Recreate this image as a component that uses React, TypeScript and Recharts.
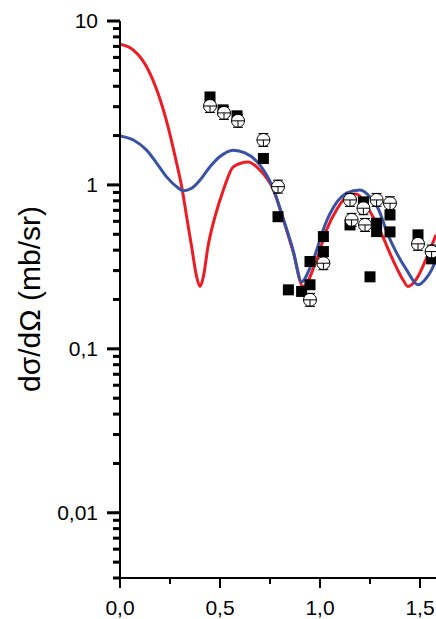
import {
  ComposedChart,
  Line,
  XAxis,
  YAxis,
} from "recharts";

// theory curves
const redX = [0, 0.067, 0.133, 0.19, 0.24, 0.283, 0.31, 0.333, 0.358, 0.383, 0.4, 0.417, 0.44, 0.475, 0.517, 0.567, 0.64, 0.7, 0.767, 0.817, 0.867, 0.915, 0.983, 1.033, 1.083, 1.133, 1.18, 1.24, 1.31, 1.36, 1.415, 1.44, 1.48, 1.533, 1.58];
const redY = [7.21, 6.65, 5.26, 3.62, 2.27, 1.36, 0.955, 0.641, 0.421, 0.276, 0.24, 0.276, 0.421, 0.641, 0.932, 1.29, 1.38, 1.23, 0.932, 0.612, 0.385, 0.24, 0.349, 0.532, 0.705, 0.849, 0.881, 0.721, 0.496, 0.359, 0.264, 0.24, 0.264, 0.359, 0.496];

const blueX = [0, 0.067, 0.133, 0.183, 0.233, 0.283, 0.317, 0.358, 0.4, 0.45, 0.5, 0.565, 0.625, 0.7, 0.765, 0.815, 0.865, 0.908, 0.95, 0.975, 1.025, 1.075, 1.135, 1.2, 1.25, 1.29, 1.34, 1.383, 1.433, 1.49, 1.525, 1.558, 1.58];
const blueY = [1.99, 1.88, 1.63, 1.36, 1.12, 0.976, 0.923, 0.955, 1.07, 1.29, 1.49, 1.63, 1.57, 1.32, 0.958, 0.629, 0.402, 0.257, 0.312, 0.374, 0.57, 0.755, 0.894, 0.932, 0.845, 0.721, 0.496, 0.385, 0.303, 0.246, 0.264, 0.303, 0.349];

// data points
const squareX = [0.45, 0.515, 0.585, 0.717, 0.79, 0.842, 0.908, 0.95, 0.95, 1.017, 1.017, 1.15, 1.217, 1.283, 1.283, 1.35, 1.35, 1.25, 1.49, 1.558];
const squareY = [3.44, 2.87, 2.64, 1.45, 0.64, 0.229, 0.224, 0.246, 0.341, 0.392, 0.484, 0.57, 0.788, 0.584, 0.519, 0.656, 0.517, 0.275, 0.496, 0.354];

const circleX = [0.45, 0.52, 0.59, 0.717, 0.79, 0.95, 1.017, 1.15, 1.217, 1.283, 1.35, 1.158, 1.225, 1.49, 1.558];
const circleY = [3.03, 2.75, 2.46, 1.88, 0.976, 0.199, 0.333, 0.81, 0.721, 0.81, 0.773, 0.612, 0.57, 0.437, 0.392];

const xTicks = [0, 0.25, 0.5, 0.75, 1, 1.25, 1.5];
const xMajor = [0, 0.5, 1, 1.5];
const xLabels = ["0,0", "0,5", "1,0", "1,5"];

const yTicks = [0.004, 0.005, 0.006, 0.007, 0.008, 0.009, 0.01, 0.02, 0.03, 0.04, 0.05, 0.06, 0.07, 0.08, 0.09, 0.1, 0.2, 0.3, 0.4, 0.5, 0.6, 0.7, 0.8, 0.9, 1, 2, 3, 4, 5, 6, 7, 8, 9, 10];
const yMajor = [0.01, 0.1, 1, 10];
const yLabels = ["0,01", "0,1", "1", "10"];

const yTitle = "dσ/dΩ (mb/sr)";

const red = redX.map((x, i) => ({ x, y: redY[i] }));
const blue = blueX.map((x, i) => ({ x, y: blueY[i] }));
const squares = squareX.map((x, i) => ({ x, y: squareY[i] }));
const circles = circleX.map((x, i) => ({ x, y: circleY[i] }));

const W = 436;
const H = 619;
const PL = 120;
const PB = 578;
const FONT = "Arial, 'Liberation Sans', sans-serif";

function XTick(props: any) {
  const { x, payload } = props;
  const idx = xMajor.indexOf(payload.value);
  const major = idx >= 0;
  return (
    <g>
      <rect x={Number(x) - 1} y={PB} width={2} height={major ? 10 : 6} fill="#000" />
      {major && (
        <text x={x} y={PB + 37} textAnchor="middle" fontSize={21} fontFamily={FONT} fill="#000">
          {xLabels[idx]}
        </text>
      )}
    </g>
  );
}

function YTick(props: any) {
  const { y, payload } = props;
  const idx = yMajor.indexOf(payload.value);
  const len = idx >= 0 ? 13 : 7;
  return (
    <g>
      <rect x={PL - len} y={Number(y) - 1.5} width={len} height={3} fill="#000" />
      {idx >= 0 && (
        <text x={PL - 22} y={Number(y) + 7} textAnchor="end" fontSize={21} fontFamily={FONT} fill="#000">
          {yLabels[idx]}
        </text>
      )}
    </g>
  );
}

function SquareDot(props: any) {
  const { cx, cy } = props;
  if (cx == null || cy == null) return <g />;
  return <rect x={cx - 5.5} y={cy - 5.5} width={11} height={11} fill="#000" />;
}

function CircleDot(props: any) {
  const { cx, cy } = props;
  if (cx == null || cy == null) return <g />;
  const r = 6.5;
  return (
    <g stroke="#000" strokeWidth={1}>
      <circle cx={cx} cy={cy} r={r} fill="#fff" />
      <line x1={cx - r} x2={cx + r} y1={cy} y2={cy} />
      <line x1={cx} x2={cx} y1={cy} y2={cy + r} />
      <line x1={cx - 5} x2={cx + 5} y1={cy - r} y2={cy - r} />
      <line x1={cx - 5} x2={cx + 5} y1={cy + r} y2={cy + r} />
    </g>
  );
}

export default function App() {
  return (
    <div style={{ position: "absolute", left: 0, top: 0, width: W, height: H, background: "#fff" }}>
      <ComposedChart width={W} height={H} margin={{ top: 21, right: 0, bottom: 0, left: 0 }}>
        <XAxis
          type="number"
          dataKey="x"
          domain={[0, 1.58]}
          allowDataOverflow
          ticks={xTicks}
          interval={0}
          height={41}
          axisLine={{ stroke: "#000", strokeWidth: 2 }}
          tickLine={false}
          tick={<XTick />}
        />
        <YAxis
          type="number"
          dataKey="y"
          scale="log"
          domain={[0.004, 10]}
          allowDataOverflow
          ticks={yTicks}
          interval={0}
          width={120}
          axisLine={{ stroke: "#000", strokeWidth: 2 }}
          tickLine={{ stroke: "#000", strokeWidth: 2 }}
          tickSize={7}
          tick={<YTick />}
        />
        <Line
          data={red}
          dataKey="y"
          type="monotone"
          stroke="#ED1C24"
          strokeWidth={3}
          dot={false}
          activeDot={false}
          isAnimationActive={false}
        />
        <Line
          data={blue}
          dataKey="y"
          type="monotone"
          stroke="#3953A4"
          strokeWidth={3}
          dot={false}
          activeDot={false}
          isAnimationActive={false}
        />
        <Line
          data={squares}
          dataKey="y"
          stroke="none"
          dot={<SquareDot />}
          activeDot={false}
          isAnimationActive={false}
        />
        <Line
          data={circles}
          dataKey="y"
          stroke="none"
          dot={<CircleDot />}
          activeDot={false}
          isAnimationActive={false}
        />
      </ComposedChart>
      <div
        style={{
          position: "absolute",
          left: 30,
          top: 299,
          transform: "translate(-50%, -50%) rotate(-90deg)",
          whiteSpace: "nowrap",
          fontSize: 30,
          lineHeight: 1,
          fontFamily: FONT,
          color: "#000",
        }}
      >
        {yTitle}
      </div>
    </div>
  );
}
